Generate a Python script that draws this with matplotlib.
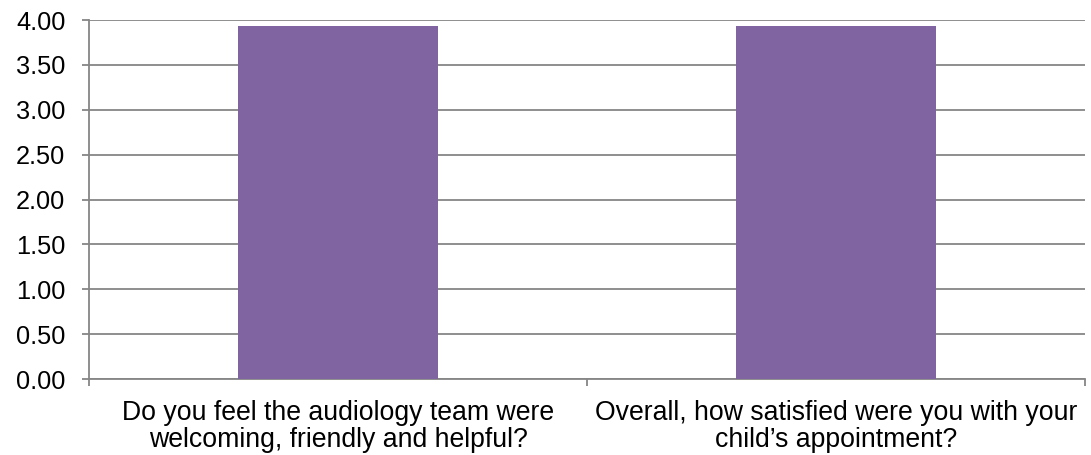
"""Mean satisfaction scores for the two audiology questions."""
import matplotlib
matplotlib.use("Agg")
import matplotlib.pyplot as plt
import numpy as np

categories = [
    "Do you feel the audiology team were\nwelcoming, friendly and helpful?",
    "Overall, how satisfied were you with your\nchild\u2019s appointment?",
]
scores = [3.93, 3.93]
yticks = [0.0, 0.5, 1.0, 1.5, 2.0, 2.5, 3.0, 3.5, 4.0]

BAR = "#8064A2"
GRID = "#868686"

plt.rcParams["font.family"] = ["Liberation Sans", "DejaVu Sans"]

fig = plt.figure(figsize=(10.91, 4.55), dpi=100)
ax = fig.add_axes([0.0816, 0.167, 0.9129, 0.789])

x = np.arange(len(categories))
ax.bar(x, scores, width=0.4, color=BAR, zorder=3)

ax.set_xlim(-0.5, len(categories) - 0.5)
ax.set_ylim(0, 4)
ax.set_yticks(yticks)
ax.set_yticklabels([f"{v:.2f}" for v in yticks], fontsize=18.3)
ax.yaxis.grid(True, color=GRID, lw=1.3, zorder=0)

# category boundary ticks on the x axis, labels centred under bars
ax.set_xticks([-0.5, 0.5, 1.5])
ax.set_xticklabels([])
ax.set_xticks(x, minor=True)
ax.set_xticklabels(categories, minor=True, fontsize=19.2, linespacing=1.08)
ax.tick_params(axis="x", which="minor", length=0, pad=15)
ax.tick_params(axis="x", which="major", length=5, color=GRID, width=1.3)
ax.tick_params(axis="y", length=5, color=GRID, width=1.3, pad=12)

for side in ("top", "right"):
    ax.spines[side].set_visible(False)
for side in ("left", "bottom"):
    ax.spines[side].set_color(GRID)
    ax.spines[side].set_linewidth(1.3)

fig.savefig("out.png", dpi=100)
